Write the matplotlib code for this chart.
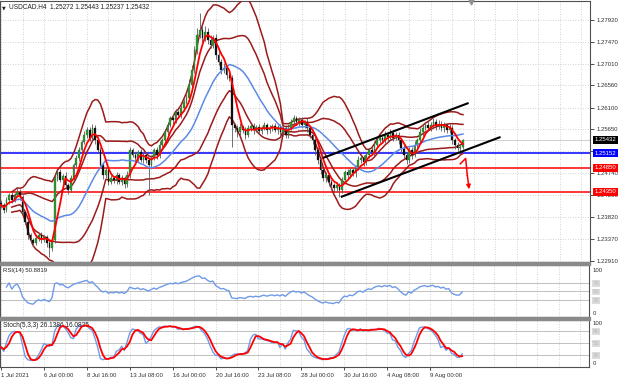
import numpy as np
import pandas as pd
import matplotlib
matplotlib.use("Agg")
import matplotlib.pyplot as plt
from matplotlib.patches import Rectangle
import matplotlib.transforms as mtransforms

plt.rcParams['font.family'] = ['Liberation Sans', 'DejaVu Sans']

# ---------------- data ----------------
symbol = "USDCAD.H4"
last_ohlc = [1.25272, 1.25443, 1.25237, 1.25432]

closes = [
    1.24074, 1.23970, 1.24178, 1.24282, 1.24178, 1.24282, 1.24344, 1.24240, 1.23929, 1.23721,
    1.23450, 1.23346, 1.23284, 1.23388, 1.23450, 1.23346, 1.23409, 1.23284, 1.23180, 1.23346,
    1.24635, 1.24760, 1.24594, 1.24677, 1.24490, 1.24386, 1.24635, 1.24906, 1.25051, 1.25218,
    1.25384, 1.25529, 1.25633, 1.25467, 1.25675, 1.25425, 1.25218, 1.24906, 1.24698, 1.24802,
    1.24552, 1.24635, 1.24594, 1.24698, 1.24552, 1.24635, 1.24511, 1.24698, 1.25218, 1.25114,
    1.25051, 1.25176, 1.25010, 1.25114, 1.25010, 1.24906, 1.25051, 1.25218, 1.25114, 1.25321,
    1.25425, 1.25592, 1.25737, 1.25883, 1.25841, 1.26008, 1.25945, 1.26091, 1.26215, 1.26299,
    1.26569, 1.26881, 1.27297, 1.27608, 1.27712, 1.27546, 1.27671, 1.27504, 1.27400, 1.27546,
    1.27193, 1.27047, 1.26881, 1.26922, 1.26777, 1.26714, 1.25737, 1.25675, 1.25592, 1.25696,
    1.25633, 1.25529, 1.25675, 1.25717, 1.25633, 1.25696, 1.25613, 1.25675, 1.25737, 1.25633,
    1.25675, 1.25717, 1.25633, 1.25696, 1.25592, 1.25675, 1.25529, 1.25675, 1.25800, 1.25883,
    1.25800, 1.25841, 1.25737, 1.25800, 1.25675, 1.25529, 1.25425, 1.25218, 1.25010, 1.24802,
    1.24635, 1.24698, 1.24552, 1.24490, 1.24428, 1.24490, 1.24386, 1.24594, 1.24760, 1.24698,
    1.24802, 1.24739, 1.24843, 1.25010, 1.25051, 1.24968, 1.25114, 1.25218, 1.25176, 1.25321,
    1.25425, 1.25467, 1.25425, 1.25529, 1.25488, 1.25571, 1.25467, 1.25529, 1.25425, 1.25259,
    1.25114, 1.25010, 1.25218, 1.25114, 1.25321, 1.25425, 1.25592, 1.25675, 1.25737, 1.25675,
    1.25737, 1.25800, 1.25717, 1.25758, 1.25675, 1.25737, 1.25633, 1.25675, 1.25425, 1.25321,
    1.25259, 1.25272, 1.25432,
]
first_open = 1.24120

# wick lengths in pips beyond the candle body
wick_hi = [
    6, 5, 7, 4, 6, 5, 8, 6, 4, 5,   6, 4, 5, 7, 5, 6, 4, 5, 6, 8,
    7, 5, 6, 4, 8, 5, 6, 5, 7, 6,   5, 8, 6, 7, 9, 6, 5, 6, 4, 7,
    5, 6, 4, 7, 5, 6, 4, 8, 6, 5,   7, 5, 6, 4, 6, 5, 7, 5, 6, 8,
    5, 6, 7, 5, 8, 6, 5, 7, 6, 9,   12, 10, 8, 14, 35, 9, 12, 8, 10, 7,
    9, 8, 7, 10, 6, 8, 7, 5, 6, 8,  5, 7, 6, 4, 6, 5, 7, 5, 6, 4,
    6, 5, 7, 5, 6, 8, 5, 9, 7, 6,   5, 7, 6, 5, 8, 4, 6, 5, 7, 6,
    5, 7, 4, 6, 5, 6, 4, 7, 5, 6,   7, 5, 6, 8, 5, 6, 7, 5, 6, 8,
    6, 7, 5, 9, 6, 8, 5, 7, 6, 5,   6, 5, 7, 6, 8, 5, 9, 6, 7, 8,
    6, 9, 7, 8, 6, 7, 5, 9, 6, 5,   6, 7, 1.1,
]
wick_lo = [
    7, 6, 5, 8, 6, 5, 4, 7, 6, 5,   8, 6, 7, 5, 6, 7, 5, 8, 19, 6,
    6, 7, 5, 8, 6, 9, 5, 6, 5, 7,   6, 5, 7, 6, 5, 8, 6, 7, 9, 6,
    7, 5, 6, 8, 5, 7, 9, 6, 7, 5,   6, 8, 5, 7, 6, 62, 7, 5, 8, 6,
    5, 7, 6, 5, 8, 6, 5, 7, 6, 5,   6, 5, 7, 8, 6, 9, 7, 8, 6, 7,
    8, 7, 9, 6, 8, 7, 46, 8, 10, 6, 7, 9, 5, 6, 8, 5, 7, 6, 5, 8,
    6, 7, 5, 8, 6, 9, 7, 6, 5, 7,   6, 8, 7, 6, 9, 7, 8, 10, 9, 8,
    7, 9, 8, 10, 9, 8, 15, 7, 6, 8, 7, 6, 8, 5, 7, 9, 6, 7, 5, 8,
    6, 7, 5, 6, 8, 7, 6, 5, 9, 8,   7, 9, 6, 8, 5, 7, 6, 8, 5, 7,
    6, 5, 8, 7, 6, 9, 7, 6, 8, 9,   7, 6, 3.5,
]

x_labels = ["1 Jul 2021", "6 Jul 00:00", "8 Jul 16:00", "13 Jul 08:00", "16 Jul 00:00",
            "20 Jul 16:00", "23 Jul 08:00", "28 Jul 00:00", "30 Jul 16:00",
            "4 Aug 08:00", "9 Aug 00:00"]
bars_per_label = 16

price_ticks = [1.27920, 1.27470, 1.27010, 1.26560, 1.26100, 1.25650, 1.25190,
               1.24740, 1.24280, 1.23820, 1.23370, 1.22910]
hidden_tick = 1.25190   # covered by the blue level box in the reference
level_blue = 1.25152
levels_red = [1.24850, 1.24350]

# trend channel (bar index, price)
channel_upper = [(119.8, 1.25051), (174.1, 1.26195)]
channel_lower = [(126.5, 1.24240), (186.0, 1.25488)]
# red arrow path (bar index, price)
arrow_x = [171.0, 173.0, 173.6, 174.3]
arrow_y = [1.24930, 1.25042, 1.24700, 1.24400]

rsi_label = "RSI(14) 50.8819"
stoch_label = "Stoch(5,3,3) 26.1386 16.0825"

# ---------------- derived series ----------------
c = pd.Series(closes)
o = c.shift(1)
o.iloc[0] = first_open
body_top = np.maximum(o, c)
body_bot = np.minimum(o, c)
h = body_top + np.array(wick_hi) * 1e-4
l = body_bot - np.array(wick_lo) * 1e-4
h.iloc[-1] = last_ohlc[1]
l.iloc[-1] = last_ohlc[2]
n = len(c)
idx = np.arange(n)

ma_fast = c.rolling(5, min_periods=1).mean()
mid = c.rolling(20, min_periods=5).mean()
sd = c.rolling(20, min_periods=5).std(ddof=0)
bb2_up, bb2_dn = mid + 2 * sd, mid - 2 * sd
bb1_up, bb1_dn = mid + 1 * sd, mid - 1 * sd

d = c.diff().fillna(c.iloc[0] - first_open)
gain = d.clip(lower=0).ewm(alpha=1 / 14, adjust=True, min_periods=3).mean()
loss = (-d.clip(upper=0)).ewm(alpha=1 / 14, adjust=True, min_periods=3).mean()
rsi = 100 - 100 / (1 + gain / loss)

ll = l.rolling(5, min_periods=1).min()
hh = h.rolling(5, min_periods=1).max()
k = 100 * (c - ll).rolling(3, min_periods=1).sum() / (hh - ll).rolling(3, min_periods=1).sum()
dline = k.rolling(3, min_periods=1).mean()

# ---------------- figure ----------------
W, H = 620, 382
fig = plt.figure(figsize=(W / 100, H / 100), dpi=100)
fig.patch.set_facecolor('white')


def axes_px(x0, y0, x1, y1):
    return fig.add_axes([x0 / W, 1 - y1 / H, (x1 - x0) / W, (y1 - y0) / H])


ax = axes_px(0, 1, 590, 262)
ax_r = axes_px(0, 265, 589, 317)
ax_s = axes_px(0, 320, 589, 367)

x_min, x_max = -0.4, 219.3
grid_kw = dict(color='#c4c4c4', lw=0.6, ls=(0, (1, 2)), zorder=0)
dark = '#9b1b1b'
lab_fs = 4.3
txt_fs = 4.7

for a in (ax, ax_r, ax_s):
    a.set_xlim(x_min, x_max)
    a.set_facecolor('white')
    for xv in np.arange(0, x_max, 8):
        a.axvline(xv, **grid_kw)
    for sp in a.spines.values():
        sp.set_color('#505050')
        sp.set_linewidth(0.8)
    a.tick_params(axis='x', which='both', length=0, labelbottom=False)

# ---- main panel ----
ax.set_ylim(1.22889, 1.28315)
for p in price_ticks:
    ax.axhline(p, **grid_kw)

ax.axhline(last_ohlc[3], color='#c8c8c8', lw=0.6, zorder=1)
ax.axhline(level_blue, color='#0000ff', lw=1.1, zorder=2)
for lv in levels_red:
    ax.axhline(lv, color='#ff0000', lw=1.1, zorder=2)

for band in (bb2_up, bb2_dn, bb1_up, bb1_dn):
    ax.plot(idx, band, color=dark, lw=1.1, zorder=3)

ax.vlines(idx, l, h, color='#5a5a5a', lw=0.6, zorder=4)
bull = (c >= o).values
heights = np.maximum((body_top - body_bot).values, 0.00004)
ax.bar(idx[bull], heights[bull], bottom=body_bot.values[bull], width=0.62,
       color='#2f9a2f', edgecolor='#1f5f1f', lw=0.2, zorder=5)
ax.bar(idx[~bull], heights[~bull], bottom=body_bot.values[~bull], width=0.62,
       color='#101010', edgecolor='#101010', lw=0.2, zorder=5)

ax.plot(idx, mid, color='#5b8ae6', lw=1.1, zorder=6)
ax.plot(idx, ma_fast, color='#ff0000', lw=1.3, zorder=7)

for seg in (channel_upper, channel_lower):
    ax.plot([seg[0][0], seg[1][0]], [seg[0][1], seg[1][1]], color='black', lw=1.5,
            zorder=8, solid_capstyle='butt')
ax.plot(arrow_x[:-1], arrow_y[:-1], color='#ff0000', lw=1.1, zorder=8)
ax.annotate('', xy=(arrow_x[-1], arrow_y[-1]), xytext=(arrow_x[-2], arrow_y[-2]),
            arrowprops=dict(arrowstyle='-|>', color='#ff0000', lw=1.1,
                            mutation_scale=6, shrinkA=0, shrinkB=0), zorder=8)

ax.yaxis.tick_right()
ax.set_yticks(price_ticks)
ax.set_yticklabels(["" if p == hidden_tick else f"{p:.5f}" for p in price_ticks])
ax.tick_params(axis='y', length=3, width=0.6, pad=1.5, labelsize=lab_fs,
               colors='#303030')
ax.spines['bottom'].set_visible(False)

ytr = mtransforms.blended_transform_factory(ax.transAxes, ax.transData)
for val, bg in ((last_ohlc[3], 'black'), (level_blue, '#0000ff'),
                (levels_red[0], '#ff0000'), (levels_red[1], '#ff0000')):
    ax.text(1.0075, val, f"{val:.5f}", transform=ytr, fontsize=lab_fs, color='white',
            va='center', ha='left', zorder=20, clip_on=False,
            bbox=dict(facecolor=bg, edgecolor='none', pad=1.2))

ax.text(0.0035, 0.975, "\u25BC", transform=ax.transAxes, fontsize=3.5, va='center',
        ha='left', family='DejaVu Sans', color='#202020')
ax.text(0.016, 0.975, f"{symbol}  " + " ".join(f"{v:.5f}" for v in last_ohlc),
        transform=ax.transAxes, fontsize=txt_fs, va='center', ha='left', color='#202020')
ax.plot([175], [1.28290], marker='v', color='#909090', ms=3.5, zorder=9, clip_on=False)

# ---- RSI panel ----
ax_r.set_ylim(-9.3, 111.6)
for lv in (70, 50, 30):
    ax_r.axhline(lv, color='#c0c0c0', lw=0.7, zorder=1)
ax_r.plot(idx, rsi, color='#6f9be8', lw=1.0, zorder=3)
ax_r.text(0.005, 0.90, rsi_label, transform=ax_r.transAxes, fontsize=lab_fs,
          va='center', ha='left', color='#202020')
ax_r.yaxis.tick_right()
ax_r.set_yticks([100, 70, 50, 30, 0])
ax_r.set_yticklabels(['100', '70', '50', '30', '0'])
ax_r.tick_params(axis='y', length=0, pad=2.5, labelsize=lab_fs, colors='#303030')
for t in ax_r.get_yticklabels()[1:4]:
    t.set_color('#b8b8b8')
    t.set_bbox(dict(facecolor='#dcdcdc', edgecolor='none', pad=0.6))

# ---- Stoch panel ----
ax_s.set_ylim(-10, 107.5)
for lv in (80, 50, 20):
    ax_s.axhline(lv, color='#c0c0c0', lw=0.7, zorder=1)
ax_s.plot(idx, k, color='#6f9be8', lw=1.0, zorder=3)
ax_s.plot(idx, dline, color='#ff0000', lw=1.3, zorder=4)
ax_s.text(0.005, 0.89, stoch_label, transform=ax_s.transAxes, fontsize=txt_fs,
          va='center', ha='left', color='#202020')
ax_s.yaxis.tick_right()
ax_s.set_yticks([100, 80, 50, 20, 0])
ax_s.set_yticklabels(['100', '80', '50', '20', '0'])
ax_s.tick_params(axis='y', length=0, pad=2.5, labelsize=lab_fs, colors='#303030')
for t in ax_s.get_yticklabels()[1:4]:
    t.set_color('#b8b8b8')
    t.set_bbox(dict(facecolor='#dcdcdc', edgecolor='none', pad=0.6))

ax_s.set_xticks([i * bars_per_label for i in range(len(x_labels))])
ax_s.set_xticklabels(x_labels, ha='left')
ax_s.tick_params(axis='x', length=2, width=0.6, pad=2, labelsize=lab_fs,
                 labelbottom=True, colors='#303030')

# separators between panels
for y0, y1 in ((262, 265), (317, 320)):
    fig.add_artist(Rectangle((0, 1 - y1 / H), 590 / W, (y1 - y0) / H,
                             transform=fig.transFigure, color='#8a8a8a', zorder=30))

fig.savefig("out.png", dpi=100)
